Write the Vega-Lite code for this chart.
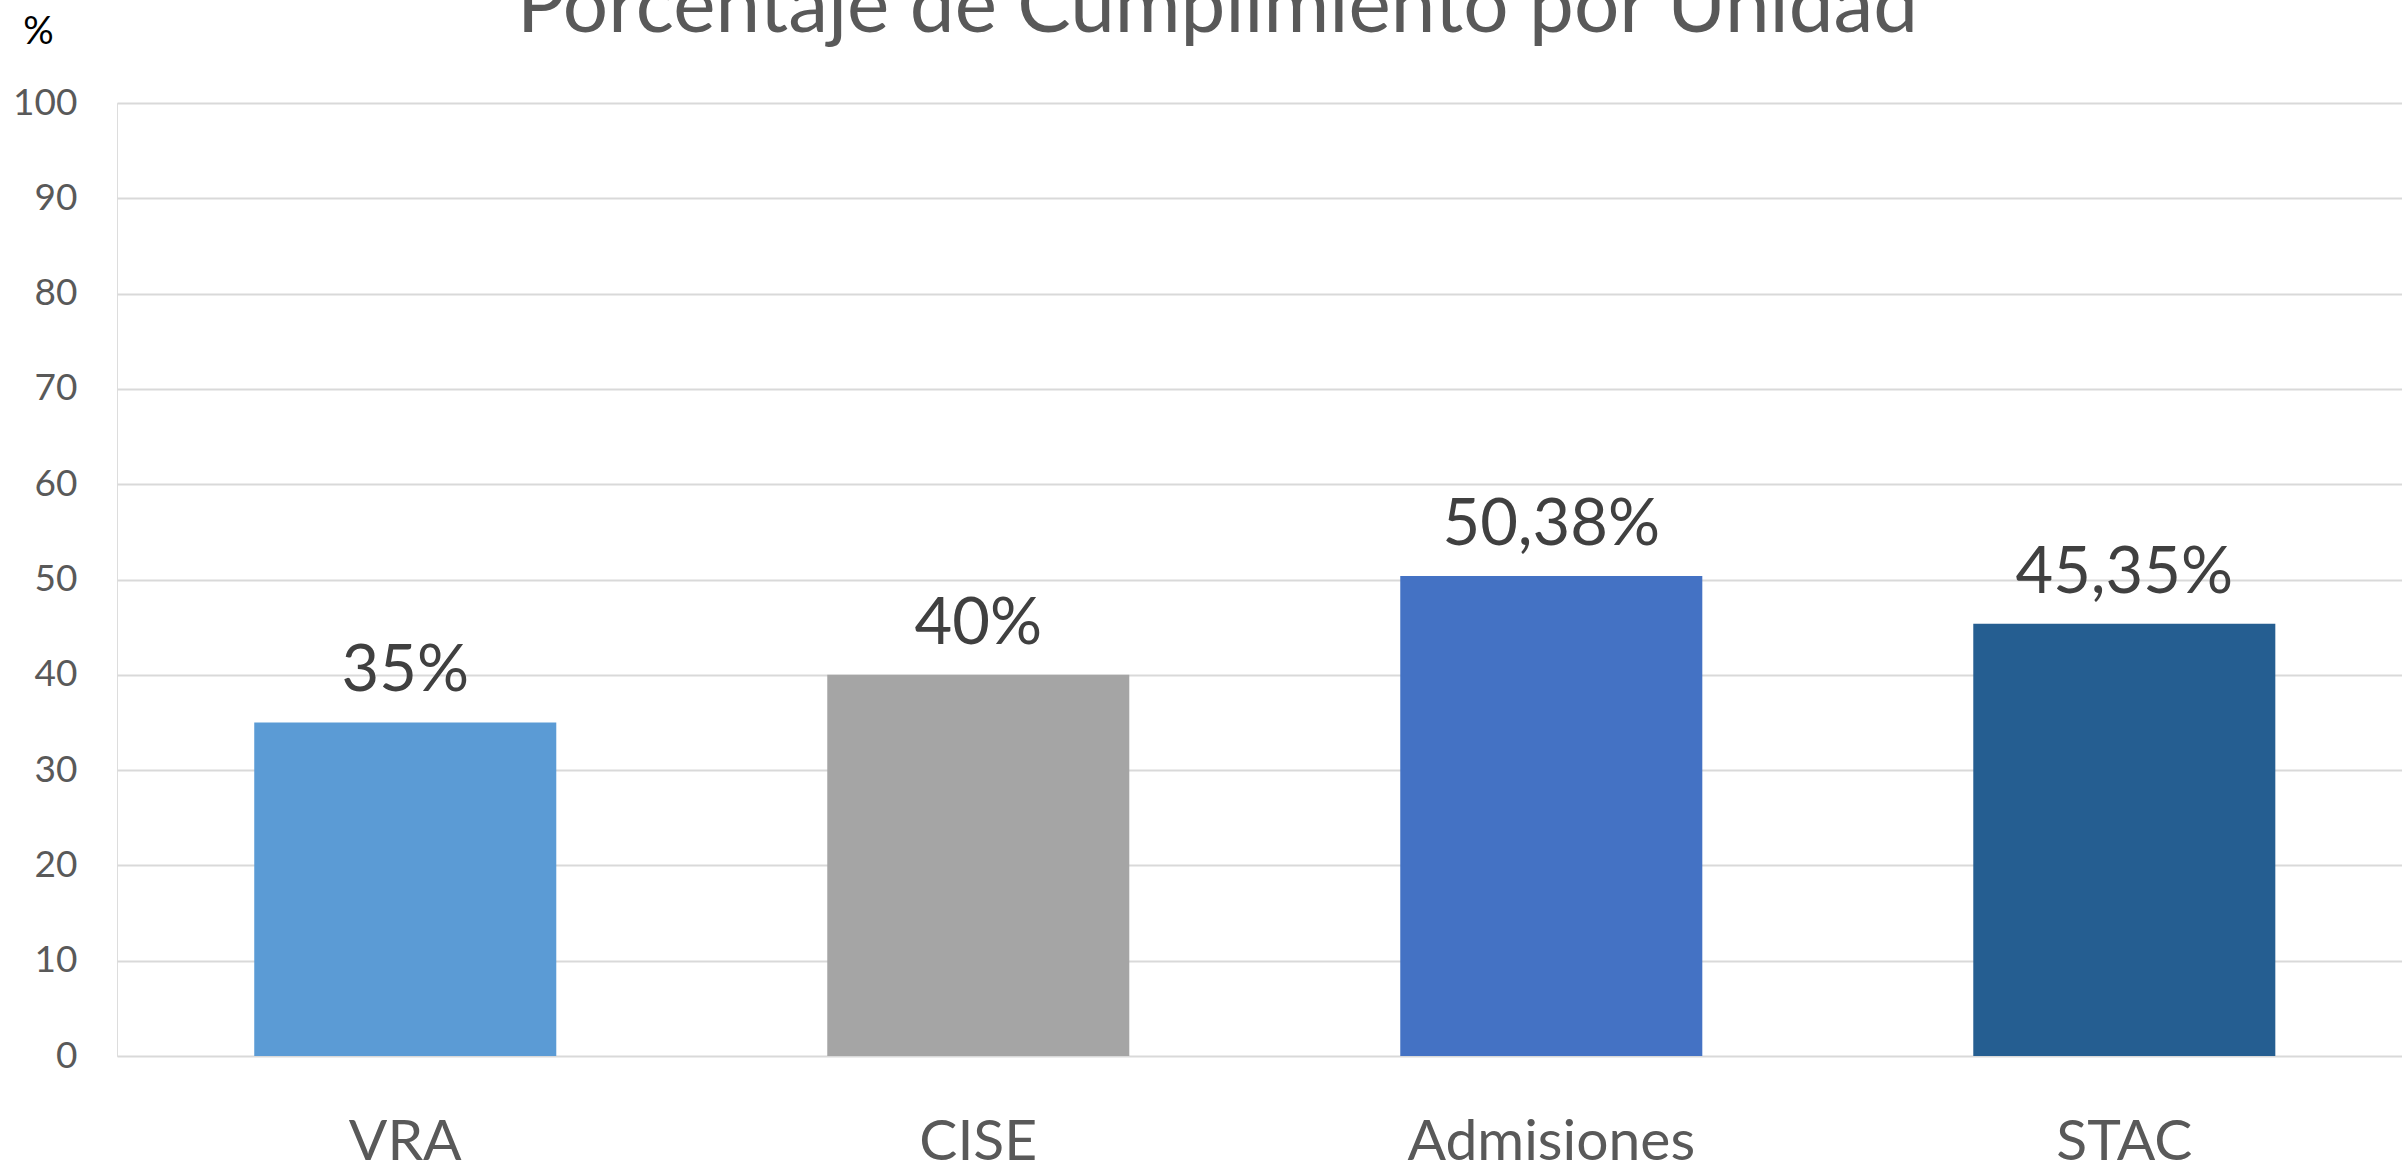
{
  "$schema": "https://vega.github.io/schema/vega-lite/v6.json",
  "autosize": {"type": "none"},
  "padding": {"left": 117, "top": 103, "right": 0, "bottom": 108},
  "width": 2285,
  "height": 953,
  "background": "#ffffff",
  "title": {
    "text": "Porcentaje de Cumplimiento por Unidad",
    "frame": "group",
    "anchor": "middle",
    "baseline": "alphabetic",
    "offset": 0,
    "dy": 99,
    "dx": -42,
    "font": "Lato",
    "fontSize": 80,
    "fontWeight": "normal",
    "color": "#595959"
  },
  "data": {
    "values": [
      {"unidad": "VRA", "valor": 35, "etiqueta": "35%"},
      {"unidad": "CISE", "valor": 40, "etiqueta": "40%"},
      {"unidad": "Admisiones", "valor": 50.38, "etiqueta": "50,38%"},
      {"unidad": "STAC", "valor": 45.35, "etiqueta": "45,35%"}
    ]
  },
  "encoding": {
    "x": {
      "field": "unidad",
      "type": "nominal",
      "sort": null,
      "scale": {"paddingInner": 0.4729, "paddingOuter": 0.2303, "align": 0.52},
      "axis": {
        "title": null,
        "labelAngle": 0,
        "labelFont": "Lato",
        "labelFontSize": 57,
        "labelColor": "#595959",
        "labelBaseline": "alphabetic",
        "labelPadding": 103,
        "labelLimit": 0,
        "ticks": false,
        "tickSize": 0,
        "domain": false,
        "grid": false
      }
    },
    "y": {
      "field": "valor",
      "type": "quantitative",
      "scale": {"domain": [0, 100], "nice": false},
      "axis": {
        "values": [0, 10, 20, 30, 40, 50, 60, 70, 80, 90, 100],
        "title": "%",
        "titleAngle": 0,
        "titleFont": "Lato",
        "titleFontSize": 38,
        "titleFontWeight": "normal",
        "titleColor": "#000000",
        "titleAlign": "center",
        "titleBaseline": "alphabetic",
        "titleX": -79,
        "titleY": -60,
        "labelFont": "Lato",
        "labelFontSize": 37,
        "labelColor": "#595959",
        "labelPadding": 40,
        "labelBaseline": "middle",
        "ticks": false,
        "tickSize": 0,
        "domain": false,
        "grid": true,
        "gridColor": "#d9d9d9",
        "gridWidth": 2
      }
    }
  },
  "layer": [
    {
      "mark": {"type": "bar"},
      "encoding": {
        "color": {
          "field": "unidad",
          "type": "nominal",
          "scale": {
            "domain": ["VRA", "CISE", "Admisiones", "STAC"],
            "range": ["#5B9BD5", "#A5A5A5", "#4472C4", "#255E91"]
          },
          "legend": null
        }
      }
    },
    {
      "mark": {
        "type": "text",
        "baseline": "alphabetic",
        "align": "center",
        "dy": -31,
        "font": "Lato",
        "fontSize": 65,
        "color": "#404040"
      },
      "encoding": {
        "text": {"field": "etiqueta", "type": "nominal"}
      }
    }
  ]
}
